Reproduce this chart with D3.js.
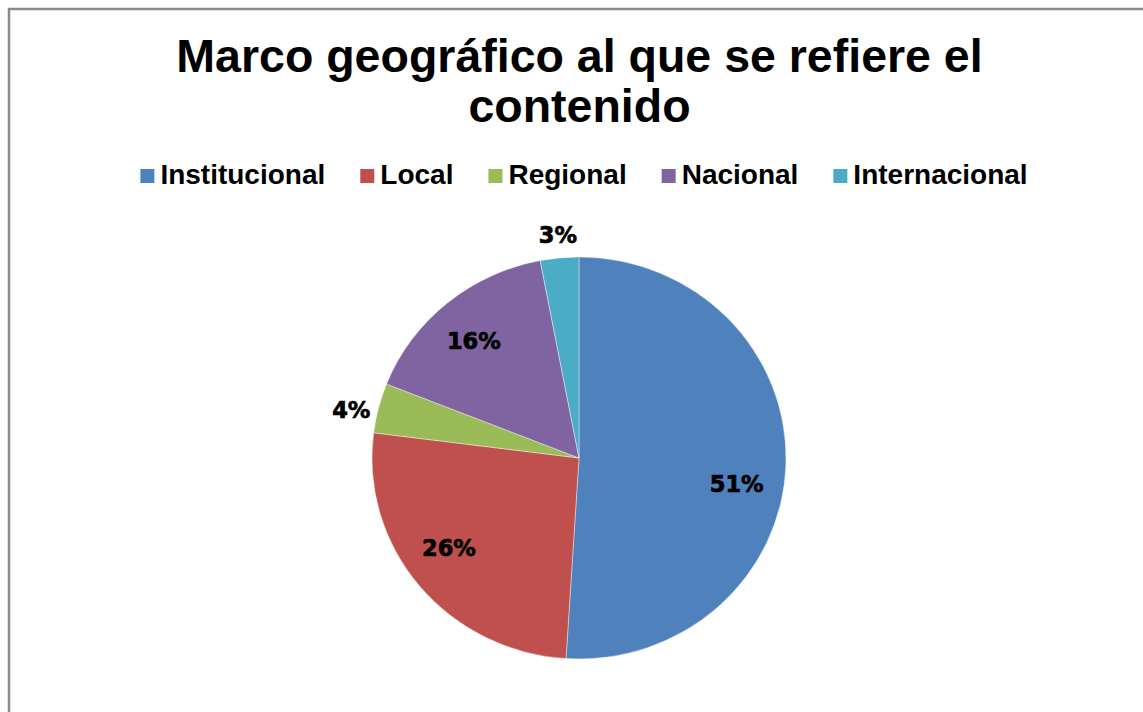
<!DOCTYPE html>
<html>
<head>
<meta charset="utf-8">
<script src="https://cdn.jsdelivr.net/npm/d3@7"></script>
<style>
  html, body { margin: 0; padding: 0; background: #fff; overflow: hidden; }
  svg { display: block; }
</style>
</head>
<body>
<svg id="chart" width="1143" height="712"></svg>
<script>
// data
var categories = ["Institucional", "Local", "Regional", "Nacional", "Internacional"];
var values = [51, 26, 4, 16, 3];
var colors = ["#4F81BD", "#C0504D", "#9BBB59", "#8064A2", "#4BACC6"];
var titleLines = ["Marco geográfico al que se refiere el", "contenido"];

// layout
var svg = d3.select("#chart"),
	cx = 579, cy = 458,
	R = 207, yScale = 201 / 207;

// label angle tweaks (degrees) to follow the original placement
var labelNudge = { "Institucional": 8, "Local": 4, "Regional": -2.5, "Nacional": -1.5 };

svg.append("rect")
	.attr("x", 9)
	.attr("y", 9)
	.attr("width", 1400)
	.attr("height", 900)
	.attr("fill", "#fff")
	.attr("stroke", "#8a8a8a")
	.attr("stroke-width", 2.5);

// title
svg.append("g")
	.selectAll("text")
	.data(titleLines)
	.enter()
	.append("text")
	.attr("x", 579.5)
	.attr("y", function(d, i) { return 72 + i * 50; })
	.attr("text-anchor", "middle")
	.attr("font-family", "Liberation Sans, Arial, sans-serif")
	.attr("font-weight", "bold")
	.attr("font-size", "46.5px")
	.attr("fill", "#000")
	.text(function(d) { return d; });

// legend
var legend = svg.append("g").attr("class", "legend");
var lx = 0;
categories.forEach(function(c, i) {
	var item = legend.append("g").attr("transform", "translate(" + lx + ",0)");
	item.append("rect")
		.attr("x", 0)
		.attr("y", -15)
		.attr("width", 14)
		.attr("height", 14)
		.attr("fill", colors[i]);
	var t = item.append("text")
		.attr("x", 20)
		.attr("y", 0)
		.attr("font-family", "Liberation Sans, Arial, sans-serif")
		.attr("font-weight", "bold")
		.attr("font-size", "28px")
		.attr("fill", "#000")
		.text(c);
	lx += 20 + t.node().getComputedTextLength() + 35;
});
var legW = lx - 35;
legend.attr("transform", "translate(" + (584 - legW / 2) + ",184)");

// pie
var pie = d3.pie().sort(null).value(function(d) { return d; });
var arcs = pie(values);
var arc = d3.arc().innerRadius(0).outerRadius(R);

var pieG = svg.append("g")
	.attr("transform", "translate(" + cx + "," + cy + ") scale(1," + yScale + ")");

pieG.selectAll("path")
	.data(arcs)
	.enter()
	.append("path")
	.attr("d", arc)
	.attr("fill", function(d, i) { return colors[i]; })
	.attr("stroke", "#fff")
	.attr("stroke-opacity", 0.5)
	.attr("stroke-width", 0.8);

// labels
var total = d3.sum(values);
var labG = svg.append("g").attr("transform", "translate(" + cx + "," + cy + ")");
arcs.forEach(function(d, i) {
	var pct = Math.round(d.data / total * 100);
	var mid = (d.startAngle + d.endAngle) / 2 + (labelNudge[categories[i]] || 0) * Math.PI / 180;
	var t = labG.append("text")
		.attr("text-anchor", "middle")
		.attr("font-family", "DejaVu Sans, Arial, sans-serif")
		.attr("font-weight", "bold")
		.attr("font-size", "22.5px")
		.attr("fill", "#000")
		.attr("stroke", "#000")
		.attr("stroke-width", 0.7)
		.text(pct + "%");
	var w = t.node().getComputedTextLength(), h = 20;
	var r;
	if (pct < 5) {
		r = R + 5 + Math.abs(Math.sin(mid)) * w / 2 + Math.abs(Math.cos(mid)) * h / 2;
	} else {
		r = 160;
	}
	var x = Math.sin(mid) * r,
		y = -Math.cos(mid) * r * (pct < 5 ? 1 : yScale);
	t.attr("x", x).attr("y", y + 8);
});
</script>
</body>
</html>
